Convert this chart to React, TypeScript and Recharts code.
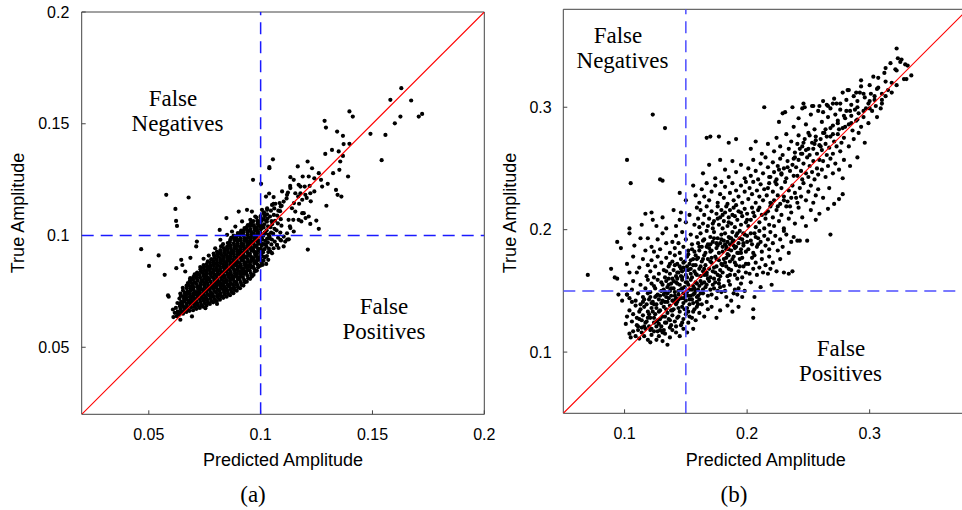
import React from 'react';
import { ScatterChart, Scatter, XAxis, YAxis } from 'recharts';

// ---------- Panel (a): [predicted, true] pairs, in thousandths ----------
const aCore = [
  61,63.5, 61.6,65.4, 60.8,66.9,
  62.4,63.9, 62.9,65.9, 62.1,67.6, 62.8,69.8,
  63.6,64.6, 64.4,66.1, 63.9,68.4, 64.5,70.4, 63.7,71.8, 64.1,74.0,
  65.3,65.0, 65.9,67.2, 65.1,69.3, 65.8,70.6, 65.4,72.9, 66.0,74.3, 65.2,76.6,
  66.8,65.8, 67.4,67.1, 66.9,69.5, 67.5,71.0, 66.6,73.1, 67.2,75.0, 67.0,76.4, 67.5,78.7,
  68.2,66.3, 68.9,67.9, 68.3,70.0, 68.8,71.5, 68.4,73.8, 68.6,75.2, 68.1,77.5, 68.9,78.9, 68.5,80.9,
  69.8,66.6, 70.4,68.1, 69.6,70.3, 70.3,71.8, 69.9,74.1, 70.1,75.6, 69.7,77.9, 70.4,79.2, 70.0,81.5, 70.5,82.6,
  71.3,67.2, 71.9,68.7, 71.1,70.9, 71.7,72.4, 71.4,74.7, 72.0,76.1, 71.2,78.4, 71.8,79.8, 71.3,82.1, 71.6,83.4,
  72.8,67.6, 73.4,69.0, 72.9,71.3, 73.5,72.7, 72.6,75.0, 73.2,76.4, 73.0,78.7, 73.5,80.1, 72.7,82.4, 73.3,83.8, 73.0,85.9,
  74.2,68.2, 74.9,69.7, 74.3,71.9, 74.7,73.4, 74.4,75.7, 75.0,77.1, 74.2,79.4, 74.8,80.8, 74.3,83.1, 74.7,84.5, 74.5,86.8,
  75.8,68.7, 76.4,70.1, 75.6,72.4, 76.2,73.8, 75.9,76.1, 76.5,77.5, 75.7,79.8, 76.3,81.2, 75.8,83.5, 76.1,84.9, 75.9,87.2, 76.4,88.4,
  77.3,69.4, 77.9,70.8, 77.1,73.1, 77.7,74.5, 77.4,76.8, 78.0,78.2, 77.2,80.5, 77.8,81.9, 77.3,84.2, 77.6,85.6, 77.4,87.9, 77.9,89.4,
  78.8,70.1, 79.4,71.5, 78.6,73.8, 79.2,75.2, 78.9,77.5, 79.5,78.9, 78.7,81.2, 79.3,82.6, 78.8,84.9, 79.1,86.3, 78.9,88.6, 79.4,90.0, 79.0,91.9,
  80.3,70.6, 80.9,72.1, 80.1,74.4, 80.7,75.8, 80.4,78.1, 81.0,79.5, 80.2,81.8, 80.8,83.2, 80.3,85.5, 80.6,86.9, 80.4,89.2, 80.9,90.6, 80.5,92.8,
  81.8,71.3, 82.4,72.8, 81.6,75.1, 82.2,76.5, 81.9,78.8, 82.5,80.2, 81.7,82.5, 82.3,83.9, 81.8,86.2, 82.1,87.6, 81.9,89.9, 82.4,91.3, 82.0,93.5, 82.3,95.1,
  83.3,72.1, 83.9,73.6, 83.1,75.9, 83.7,77.3, 83.4,79.6, 84.0,81.0, 83.2,83.3, 83.8,84.7, 83.3,87.0, 83.6,88.4, 83.4,90.7, 83.9,92.1, 83.5,94.4, 83.2,96.1,
  84.8,72.6, 85.4,74.1, 84.6,76.4, 85.2,77.8, 84.9,80.1, 85.5,81.5, 84.7,83.8, 85.3,85.2, 84.8,87.5, 85.1,88.9, 84.9,91.2, 85.4,92.6, 85.0,94.9, 85.3,96.6,
  86.3,73.3, 86.9,74.8, 86.1,77.1, 86.7,78.5, 86.4,80.8, 87.0,82.2, 86.2,84.5, 86.8,85.9, 86.3,88.2, 86.6,89.6, 86.4,91.9, 86.9,93.3, 86.5,95.6, 86.2,97.0, 86.8,98.9,
  87.8,74.2, 88.4,75.7, 87.6,78.0, 88.2,79.4, 87.9,81.7, 88.5,83.1, 87.7,85.4, 88.3,86.8, 87.8,89.1, 88.1,90.5, 87.9,92.8, 88.4,94.2, 88.0,96.5, 88.3,97.9, 87.9,99.9,
  89.3,75.3, 89.9,76.8, 89.1,79.1, 89.7,80.5, 89.4,82.8, 90.0,84.2, 89.2,86.5, 89.8,87.9, 89.3,90.2, 89.6,91.6, 89.4,93.9, 89.9,95.3, 89.5,97.6, 89.2,99.0, 89.8,101.1,
  90.8,76.4, 91.4,77.9, 90.6,80.2, 91.2,81.6, 90.9,83.9, 91.5,85.3, 90.7,87.6, 91.3,89.0, 90.8,91.3, 91.1,92.7, 90.9,95.0, 91.4,96.4, 91.0,98.7, 90.7,100.1, 91.3,102.2,
  92.3,77.6, 92.9,79.1, 92.1,81.4, 92.7,82.8, 92.4,85.1, 93.0,86.5, 92.2,88.8, 92.8,90.2, 92.3,92.5, 92.6,93.9, 92.4,96.2, 92.9,97.6, 92.5,99.9, 92.2,101.3, 92.8,103.3,
  93.8,79.3, 94.4,80.8, 93.6,83.1, 94.2,84.5, 93.9,86.8, 94.5,88.2, 93.7,90.5, 94.3,91.9, 93.8,94.2, 94.1,95.6, 93.9,97.9, 94.4,99.3, 94.0,101.6, 93.7,103.0, 94.3,104.7,
  95.3,80.6, 95.9,82.1, 95.1,84.4, 95.7,85.8, 95.4,88.1, 96.0,89.5, 95.2,91.8, 95.8,93.2, 95.3,95.5, 95.6,96.9, 95.4,99.2, 95.9,100.6, 95.5,102.9, 95.2,104.3, 95.8,105.9,
  96.8,82.4, 97.4,83.9, 96.6,86.2, 97.2,87.6, 96.9,89.9, 97.5,91.3, 96.7,93.6, 97.3,95.0, 96.8,97.3, 97.1,98.7, 96.9,101.0, 97.4,102.4, 97.0,104.7, 96.7,106.4,
  98.3,84.3, 98.9,85.8, 98.1,88.1, 98.7,89.5, 98.4,91.8, 99.0,93.2, 98.2,95.5, 98.8,96.9, 98.3,99.2, 98.6,100.6, 98.4,102.9, 98.9,104.3, 98.5,106.6, 98.2,108.0,
  99.8,86.5, 100.4,88.0, 99.6,90.3, 100.2,91.7, 99.9,94.0, 100.5,95.4, 99.7,97.7, 100.3,99.1, 99.8,101.4, 100.1,102.8, 99.9,105.1, 100.4,106.5, 100.0,108.7,
  101.3,88.7, 101.9,90.2, 101.1,92.5, 101.7,93.9, 101.4,96.2, 102.0,97.6, 101.2,99.9, 101.8,101.3, 101.3,103.6, 101.6,105.0, 101.4,107.3, 101.9,108.7, 101.5,110.4,
  102.8,90.8, 103.4,92.6, 102.6,95.0, 103.2,96.9, 102.9,98.6, 103.5,100.4, 102.7,102.3, 103.3,104.1, 102.8,106.2, 103.1,107.6, 102.9,109.5,
  104.3,92.9, 104.8,96.0, 104.1,98.7, 104.7,101.3, 104.4,103.7, 104.9,106.4, 104.2,108.5, 104.6,111.1,
  105.8,94.3, 106.3,97.3, 105.6,100.8, 106.2,103.0, 106.4,106.6, 105.9,109.2, 106.1,112.1,
  107.3,95.7, 107.8,99.0, 107.1,102.3, 107.7,105.4, 107.4,108.9, 107.9,111.1,
  109.1,97.8, 108.8,101.3, 109.3,104.4, 109.0,107.3, 108.7,110.9, 109.4,113.3,
];

// denser middle of the blob
const aCoreFill = [
  63.1,65.2, 64.9,68.9, 66.2,71.7, 66.4,67.9, 67.9,74.2, 69.3,72.6, 69.1,76.9, 70.8,74.6,
  70.6,69.4, 72.3,77.3, 72.1,73.8, 73.9,79.6, 73.7,75.9, 75.3,82.0, 75.1,78.4, 75.4,71.3,
  76.9,86.1, 76.7,80.2, 77.0,75.9, 78.3,83.3, 78.1,77.0, 78.4,72.7, 79.9,87.4, 79.7,80.1,
  80.0,76.9, 81.3,84.4, 81.1,79.0, 81.4,73.4, 81.2,91.9, 82.9,88.8, 82.7,81.6, 82.9,77.6,
  84.3,85.8, 84.1,79.1, 84.4,93.6, 84.2,75.2, 85.9,90.1, 85.7,82.7, 86.0,78.0, 85.8,95.7,
  87.3,87.3, 87.1,80.5, 87.4,92.0, 87.2,76.2, 88.9,95.2, 88.7,84.4, 89.0,78.1, 88.8,88.0,
  90.4,92.7, 90.2,81.3, 90.5,98.0, 90.3,86.1, 91.9,90.4, 91.7,83.0, 92.0,95.4, 91.8,100.9,
  93.3,88.0, 93.1,84.0, 93.4,98.6, 93.2,93.2, 94.9,96.4, 94.7,86.0, 95.0,91.1, 94.8,102.2,
  96.3,94.4, 96.1,88.7, 96.4,99.9, 96.2,104.6, 97.9,92.6, 97.7,97.9, 98.0,88.6, 97.8,103.5,
  99.3,96.3, 99.1,89.1, 99.4,101.0, 99.2,106.3, 100.9,93.4, 100.7,98.3, 101.0,104.1, 102.3,95.9,
  102.1,101.0, 102.4,106.7, 103.9,99.6, 103.7,94.1, 105.2,105.1, 105.0,98.2,
];

// more points where the blob is solid black
const aCoreDense = [
  64.2,67.2, 63.8,69.4, 64.3,72.9,
  65.6,66.1, 65.4,68.2, 65.7,71.7, 65.3,75.4,
  67.1,68.3, 66.8,72.1, 67.3,74.0, 66.9,77.6,
  68.6,69.0, 68.3,72.6, 68.7,76.3, 68.4,79.9,
  70.2,69.2, 69.9,73.0, 70.1,76.8, 69.8,80.4,
  71.6,69.8, 71.3,73.5, 71.7,77.2, 71.4,80.9,
  73.1,70.2, 72.8,73.9, 73.2,77.6, 72.9,81.3, 73.1,84.9,
  74.6,70.8, 74.3,74.5, 74.7,78.2, 74.4,81.9, 74.6,85.6,
  76.1,71.3, 75.8,75.0, 76.2,78.7, 75.9,82.4, 76.0,86.1,
  77.6,71.9, 77.3,75.6, 77.7,79.3, 77.4,83.0, 77.5,86.7,
  79.1,72.7, 78.8,76.4, 79.2,80.1, 78.9,83.8, 79.0,87.5, 79.2,91.0,
  80.6,73.2, 80.3,77.0, 80.7,80.6, 80.4,84.3, 80.5,88.0, 80.7,91.7,
  82.1,74.0, 81.8,77.7, 82.2,81.4, 81.9,85.1, 82.0,88.8, 82.2,92.4,
  83.6,74.7, 83.3,78.4, 83.7,82.1, 83.4,85.8, 83.5,89.5, 83.7,93.2,
  85.1,75.3, 84.8,79.0, 85.2,82.7, 84.9,86.4, 85.0,90.1, 85.2,93.8,
  86.6,75.9, 86.3,79.6, 86.7,83.3, 86.4,87.0, 86.5,90.7, 86.7,94.4, 86.4,98.0,
  88.1,76.9, 87.8,80.6, 88.2,84.3, 87.9,88.0, 88.0,91.7, 88.2,95.4, 87.9,98.9,
  89.6,77.9, 89.3,81.6, 89.7,85.3, 89.4,89.0, 89.5,92.7, 89.7,96.4, 89.4,100.0,
  91.1,79.1, 90.8,82.8, 91.2,86.5, 90.9,90.2, 91.0,93.9, 91.2,97.6, 90.9,101.2,
  92.6,80.2, 92.3,83.9, 92.7,87.6, 92.4,91.3, 92.5,95.0, 92.7,98.7, 92.4,102.3,
  94.1,82.0, 93.8,85.7, 94.2,89.4, 93.9,93.1, 94.0,96.8, 94.2,100.5, 93.9,103.9,
  95.6,83.2, 95.3,86.9, 95.7,90.6, 95.4,94.3, 95.5,98.0, 95.7,101.7, 95.4,105.1,
  97.1,85.1, 96.8,88.8, 97.2,92.5, 96.9,96.2, 97.0,99.9, 97.2,103.6,
  98.6,87.0, 98.3,90.6, 98.7,94.3, 98.4,98.0, 98.5,101.7, 98.7,105.4,
  100.1,89.2, 99.8,92.9, 100.2,96.6, 99.9,100.3, 100.0,104.0, 100.2,107.6,
];

const aEdges = [
  57.8,118.2, 67.8,117.0, 61.9,111.9, 62.2,106.5, 62.6,104.3,
  46.6,93.9, 54.4,91.1, 50.1,86.4, 57.1,82.4, 58.6,73.2, 58.9,72.6,
  64.5,89.1, 68.6,90.0, 62.3,85.4, 66.3,83.9, 65.0,86.8, 71.5,97.3, 71.2,95.1,
  74.5,89.6, 76.8,91.0, 79.7,94.3, 82.0,98.1, 85.0,100.3, 87.2,101.8, 88.7,104.0,
  91.7,106.3, 95.4,107.0, 97.6,108.5, 100.6,111.5, 102.9,112.2, 105.1,113.7,
  81.7,102.5, 84.7,107.8, 90.2,110.7, 93.9,111.5, 96.1,110.7,
  96.6,124.9, 100.2,123.1, 103.9,130.6,
  64.1,62.3, 69.3,63.8, 75.3,67.5, 80.5,69.4, 96.1,81.7, 100.9,86.9, 101.3,90.6,
  102.5,87.3, 103.4,89.1, 105.1,92.1, 108.0,94.4, 110.3,95.1, 112.6,98.3,
  101.3,110.0, 102.9,111.5, 105.8,114.2,
];

const aUpper = [
  102.4,117.4, 103.8,118.8, 105.8,117.2, 106.6,114.2, 109.0,113.0, 108.5,114.5, 110.3,115.2,
  109.6,119.7, 111.6,116.6, 111.8,118.2, 113.2,122.2, 113.3,121.2, 113.3,126.1, 114.8,124.9,
  112.2,119.2, 114.9,114.5, 116.8,117.5, 117.2,114.2, 117.0,122.7, 117.8,121.9, 119.7,121.9,
  118.8,126.4, 117.8,118.9, 120.0,118.2, 121.9,122.2, 122.2,118.9, 124.0,119.7, 122.4,115.3,
  120.6,116.8, 118.6,116.0, 115.5,118.9, 114.0,112.2, 115.5,110.7, 119.3,110.0, 121.5,108.5,
  124.9,106.7, 122.2,105.2, 126.0,103.0, 120.1,107.8, 118.6,110.0, 118.2,106.3, 117.0,107.0,
  112.5,107.0, 114.6,107.0, 113.3,103.3, 114.8,101.8, 113.1,104.1, 111.8,101.0, 110.3,99.5,
  111.0,97.3, 111.9,98.2, 108.8,98.1, 107.3,95.8, 121.1,93.7, 121.5,126.4, 124.0,125.6,
  126.0,127.9, 127.0,124.9, 127.5,121.9, 130.0,123.1, 129.4,113.3, 133.7,120.4, 134.4,118.2,
  136.1,117.4, 139.1,126.4, 132.4,127.9, 135.2,129.4, 116.6,130.9, 121.0,133.1, 123.0,130.1,
  105.5,134.1, 103.9,130.1, 128.9,136.5, 131.9,138.3, 134.9,137.6, 136.8,135.6, 135.6,133.1,
  137.1,140.9, 139.7,141.0, 134.2,146.5, 136.8,144.6, 128.6,151.3, 129.2,148.3, 139.7,155.5,
  141.2,153.2, 149.1,145.5, 155.8,145.0, 154.1,133.7, 160.0,150.2, 162.5,153.2, 170.7,153.2,
  172.2,154.4, 158.0,160.7, 167.3,160.4, 162.9,165.9,
];

// ---------- Panel (b): [predicted, true] pairs, in thousandths ----------
const bLow = [
  104,115, 105,112, 107,117, 109,113, 111,118, 112,111, 114,116, 116,113, 117,119, 119,110,
  121,108, 122,114, 124,117, 126,110, 128,113, 129,118, 131,109, 133,115, 135,106, 137,112,
  139,118, 142,116, 145,113, 148,119, 151,116, 156,119,
  101,123, 102,129, 104,134, 106,125, 107,131, 109,138, 110,122, 112,127, 113,135, 115,130,
  117,124, 118,139, 119,133, 120,121, 121,128, 122,136, 124,124, 125,131, 126,139, 127,126,
  129,134, 130,121, 131,129, 132,137, 134,124, 135,132, 136,127, 137,138, 138,122, 139,130,
  140,135, 141,125, 142,139, 143,128, 145,133, 146,122, 147,137, 148,127, 150,131, 151,136,
  152,124, 153,139, 155,128, 156,133, 158,126, 159,137, 161,132, 163,139, 165,129, 168,135,
  171,137, 175,128, 178,134, 184,138, 188,133, 193,137, 205,135, 205,128,
  123,133, 128,123, 133,129, 137,126, 126,136,
  111,121, 114,126, 116,121, 119,128, 121,118, 124,128, 126,121, 129,127, 132,118, 134,135,
  137,120, 139,134, 142,121, 144,129, 147,124, 149,135, 153,129, 157,135, 160,139,
  110,128, 112,133, 114,120, 116,137, 118,125, 120,131, 122,119, 124,139, 126,125, 128,133,
  130,140, 127,117, 115,141, 131,116, 133,124, 135,141,
];

const bMid = [
  95,147, 98,142, 101,155, 102,147, 104,144, 106,151, 107,158, 109,142, 111,148, 113,155,
  115,145, 117,152, 119,159, 120,143, 121,149, 122,156, 123,141, 125,152, 126,146, 127,159,
  128,143, 130,150, 131,155, 132,147, 133,141, 134,158, 135,153, 136,144, 137,150, 138,156,
  139,142, 140,152, 141,146, 142,157, 143,141, 144,150, 145,155, 146,144, 147,159, 148,148,
  149,153, 150,142, 151,157, 152,146, 153,151, 154,159, 155,143, 156,154, 157,148, 158,157,
  159,145, 160,151, 161,143, 163,156, 164,148, 166,153, 167,141, 169,158, 171,147, 173,152,
  175,144, 177,156, 179,149, 181,154, 183,145, 185,158, 187,142, 190,151, 192,147, 195,156,
  198,150, 203,157, 206,145, 211,153, 217,164, 220,155, 230,165,
  141,149, 143,156, 146,151, 148,144, 151,149, 154,146, 157,152, 159,141, 144,143, 152,155,
  121,145, 124,154, 127,147, 130,157, 133,149, 136,155, 138,146,
  162,148, 165,157, 168,146, 172,155, 176,150,
  113,139, 116,143, 119,148, 122,140, 125,145, 129,146, 131,142, 135,148, 138,152, 141,141,
  144,147, 147,152, 150,146, 153,143, 156,147, 158,150, 161,154, 164,151, 167,155, 170,151,
  174,157, 178,153, 182,150, 186,155, 189,148, 193,152, 196,145,
  132,151, 134,145, 136,160, 138,134, 140,158, 142,144, 144,136, 146,162, 148,140, 150,157,
  152,133, 154,168, 156,140, 158,164, 160,146, 134,166, 137,172, 140,142, 143,160, 147,166,
  151,161, 155,151, 159,156,
  70,163, 89,168, 92,161, 94,160, 102,147, 106,141,
  102,172, 104,165, 107,178, 110,165, 112,169, 115,176, 118,162, 119,171,
  121,166, 122,175, 124,161, 125,170, 127,178, 128,164, 130,173, 132,167, 133,161, 134,177,
  136,170, 137,164, 139,174, 139,160, 140,167, 141,179, 142,162, 143,172, 144,165, 146,176,
  147,161, 148,169, 149,174, 150,163, 151,178, 152,167, 153,172, 155,161, 156,176, 157,166,
  158,171, 159,163, 145,170, 154,175, 160,177, 161,168, 162,162, 163,174, 164,166, 165,179,
  166,171, 167,163, 168,176, 169,168, 170,161, 171,173, 172,166, 174,178, 175,170, 176,163,
  177,175, 178,167, 179,172, 173,160, 180,165, 181,176, 183,170, 184,162, 186,174, 187,167,
  189,178, 190,163, 191,171, 193,166, 194,176, 196,161, 197,170, 199,165, 185,179, 192,160,
  201,172, 202,164, 204,177, 205,168, 207,173, 208,163, 210,169, 212,176, 213,165, 215,171,
  218,178, 219,168, 206,179, 221,173, 224,166, 227,176, 234,164, 237,166,
  141,171, 143,165, 146,168, 148,173, 151,170, 154,164, 156,171, 159,176, 150,167,
  162,170, 164,176, 167,165, 170,174, 173,169, 175,176, 178,162, 165,163,
  182,173, 185,168, 188,176, 194,170,
  162,158, 165,168, 168,160, 171,177, 174,165, 177,159, 180,171, 183,177, 186,163, 190,173,
  196,177, 199,172,
];

const bHigh = [
  94,190, 97,185, 104,197, 108,187, 113,193, 117,183, 119,193, 122,186, 124,182, 127,192,
  129,184, 131,197, 134,189, 137,181, 139,190, 134,201, 141,185, 142,195, 144,189, 145,181,
  147,198, 148,186, 150,192, 152,183, 154,196, 155,188, 157,182, 159,194, 160,189, 161,183,
  162,197, 163,186, 165,192, 166,181, 167,199, 168,188, 170,194, 171,183, 172,190, 173,198,
  175,185, 176,193, 177,181, 178,189, 179,196, 169,185, 180,182, 181,191, 182,197, 183,186,
  184,180, 185,194, 186,188, 187,183, 188,198, 189,191, 190,185, 191,195, 192,181, 193,189,
  194,199, 195,184, 196,192, 197,187, 198,196, 199,182, 187,193, 184,190, 200,190, 201,184,
  203,197, 204,188, 205,181, 207,194, 208,186, 210,199, 211,190, 212,182, 214,195, 215,187,
  217,192, 218,184, 219,198, 209,193, 221,189, 223,195, 225,183, 227,192, 229,186, 232,196,
  234,181, 236,190, 238,194, 230,199, 241,191, 243,191, 249,191, 268,196,
  183,184, 189,187, 195,181, 197,197, 170,182, 175,189, 180,186, 186,193, 192,197, 193,181,
  152,180, 155,184, 158,179, 161,186, 164,191, 167,186, 170,188, 173,193, 176,187, 179,192,
  182,188, 185,184, 188,190, 191,186, 194,193, 197,189, 200,195, 203,191, 206,197, 209,188,
  104,201, 114,204, 117,213, 122,214, 123,208, 126,203, 131,210, 140,216, 146,214, 145,208,
  142,203, 150,206, 153,212, 157,204, 159,218, 160,209, 161,202, 162,216, 164,205, 165,212,
  167,219, 168,203, 169,209, 171,215, 172,201, 173,207, 175,213, 176,219, 177,204, 178,210,
  179,216, 180,201, 181,207, 182,214, 183,219, 184,203, 185,210, 186,216, 187,205, 188,212,
  189,218, 190,202, 192,208, 193,215, 195,204, 196,211, 198,217, 199,206, 191,220, 200,213,
  201,203, 203,208, 204,218, 206,211, 207,202, 209,216, 210,206, 212,212, 214,201, 215,209,
  217,215, 218,204, 219,219, 221,210, 222,203, 224,216, 226,207, 228,212, 230,201, 232,219,
  234,209, 236,214, 239,205, 242,218, 245,210, 248,203, 252,216, 256,208, 259,213, 266,217,
  172,205, 176,209, 180,212, 185,206, 190,211, 195,214, 200,208, 205,214, 210,218, 215,213,
  220,221, 225,219, 230,224, 235,219, 240,226,
  105,238, 145,230, 150,224, 156,236, 158,228, 161,222, 163,233, 165,227, 167,238, 169,224,
  171,231, 174,236, 176,222, 178,229, 179,239, 181,226, 182,235, 184,221, 186,230, 188,238,
  189,224, 191,232, 193,227, 195,236, 196,222, 198,231, 199,239, 201,225, 202,234, 204,229,
  205,239, 207,222, 208,232, 210,227, 211,237, 213,224, 214,233, 216,228, 218,238, 219,222,
  217,234, 221,231, 222,224, 224,237, 225,228, 227,221, 228,234, 230,227, 231,239, 233,223,
  234,232, 236,226, 237,236, 239,230, 241,222, 243,234, 244,227, 246,238, 248,224, 250,231,
  252,236, 254,222, 256,228, 258,233, 262,226, 267,234, 271,221, 275,225, 278,229,
];

const bTop = [
  102,257, 129,241, 131,240, 164,246, 169,253, 174,242, 178,257, 182,249, 185,243, 188,256,
  191,247, 195,253, 198,242, 201,250, 203,244, 205,257, 207,248, 209,241, 211,254, 213,246,
  215,259, 217,251, 219,243, 221,255, 222,247, 224,241, 225,252, 227,258, 228,245, 230,250,
  232,242, 233,256, 235,248, 237,253, 238,244, 239,259, 226,249, 240,251, 241,244, 242,257,
  244,248, 245,241, 246,254, 248,246, 249,259, 250,243, 251,252, 253,247, 254,256, 255,241,
  257,250, 258,245, 259,257, 261,249, 262,256, 264,243, 266,252, 268,258, 270,246, 272,254,
  275,249, 278,242, 279,257, 284,252, 290,259,
  218,243, 223,239, 228,246, 233,251, 238,258, 243,266,
  167,275, 170,276, 177,276, 185,271, 191,274, 203,266, 207,272, 212,262, 217,270, 222,264,
  224,275, 227,268, 229,261, 232,278, 234,266, 236,272, 239,263, 241,270, 242,277, 244,262,
  245,268, 247,274, 248,265, 250,279, 251,261, 253,271, 254,266, 256,276, 257,262, 259,269,
  246,271, 260,274, 261,265, 263,279, 264,270, 265,261, 267,267, 268,276, 270,262, 271,272,
  273,268, 274,278, 276,264, 277,271, 279,275, 283,268, 287,274, 291,279, 296,271,
  245,262, 250,266, 255,270, 260,268, 265,276, 270,278, 256,273, 251,277, 262,279,
  123,294, 133,283, 214,300, 226,288, 229,295, 231,296, 237,300, 238,284, 242,291, 245,299,
  247,300, 248,286, 252,294, 254,301, 255,282, 258,297, 261,288, 262,296, 264,282, 266,292,
  268,299, 270,285, 272,294, 274,289, 276,298, 278,283, 280,291, 281,297, 283,286, 285,293,
  286,281, 288,298, 289,289, 291,295, 293,284, 295,292, 297,299, 299,287, 302,297, 306,292,
  275,282, 280,284, 285,287, 290,290, 295,297, 268,283, 274,287, 279,293, 284,297, 290,300,
  309,299, 246,303, 253,301, 259,301, 265,302, 270,303, 273,303, 262,305, 266,301, 271,307,
  276,303, 278,312, 281,306, 283,314, 285,302, 287,309, 290,305, 293,317, 296,308, 299,303,
  289,312, 292,312, 295,311, 300,305, 304,309, 310,306, 301,311, 304,306, 307,316, 310,303,
  300,299, 305,301, 310,311, 315,314, 318,320,
  313,309, 318,312, 300,318, 306,315, 282,314, 322,318, 293,322, 303,325, 307,324, 312,328,
  317,336, 313,321, 322,330, 325,337, 328,323, 331,334, 334,326, 330,323, 322,348, 323,340,
  326,339, 329,335, 313,332, 321,331,
];

const aThreshold = 0.1;
const bThreshold = 0.15;
const aDomain: [number, number] = [0.02, 0.2];
const bDomain: [number, number] = [0.05, 0.38];
const aTicks = [0.05, 0.1, 0.15, 0.2];
const bTicks = [0.1, 0.2, 0.3];

const xLabel = 'Predicted Amplitude';
const yLabel = 'True Amplitude';
const fnLines = ['False', 'Negatives'];
const fpLines = ['False', 'Positives'];

const toPoints = (...arrs: number[][]) => {
  const out: { x: number; y: number }[] = [];
  for (const a of arrs) for (let i = 0; i + 1 < a.length; i += 2) out.push({ x: a[i] / 1000, y: a[i + 1] / 1000 });
  return out;
};

const dataA = toPoints(aCore, aCoreFill, aCoreDense, aEdges, aUpper);
const dataB = toPoints(bLow, bMid, bHigh, bTop);

const SANS = "'Liberation Sans', Arial, Helvetica, sans-serif";
const SERIF = "'Liberation Serif', 'Times New Roman', serif";
const AXIS = '#444';

const Dot = (p: any) => <circle cx={p.cx} cy={p.cy} r={2.1} fill="#000" />;
const NoDot = () => <g />;

type PanelProps = {
  data: { x: number; y: number }[];
  domain: [number, number];
  ticks: number[];
  thr: number;
  dash: string;
  left: number;
  margin: { top: number; right: number; bottom: number; left: number };
  xTickMargin: number;
  yTickMargin: number;
};

function Panel({ data, domain, ticks, thr, dash, left, margin, xTickMargin, yTickMargin }: PanelProps) {
  const tickStyle = { fill: '#000', fontSize: 16, fontFamily: SANS };
  const vLine = [{ x: thr, y: domain[0] }, { x: thr, y: domain[1] }];
  const hLine = [{ x: domain[0], y: thr }, { x: domain[1], y: thr }];
  const diag = [{ x: domain[0], y: domain[0] }, { x: domain[1], y: domain[1] }];
  return (
    <div style={{ position: 'absolute', left, top: 0 }}>
      <ScatterChart width={500} height={480} margin={margin}>
        <XAxis xAxisId="b" type="number" dataKey="x" domain={domain} ticks={ticks} allowDataOverflow
          orientation="bottom" height={40} stroke={AXIS} tickSize={-4} tickMargin={xTickMargin}
          tick={tickStyle} interval={0} />
        <XAxis xAxisId="t" type="number" dataKey="x" domain={domain} ticks={ticks} allowDataOverflow
          orientation="top" height={1} stroke={AXIS} tickSize={-4} tick={false} interval={0} />
        <YAxis yAxisId="l" type="number" dataKey="y" domain={domain} ticks={ticks} allowDataOverflow
          orientation="left" width={60} stroke={AXIS} tickSize={-4} tickMargin={yTickMargin}
          tick={tickStyle} interval={0} />
        <YAxis yAxisId="r" type="number" dataKey="y" domain={domain} ticks={ticks} allowDataOverflow
          orientation="right" width={1} stroke={AXIS} tickSize={-4} tick={false} interval={0} />
        <Scatter xAxisId="b" yAxisId="l" data={data} shape={Dot} isAnimationActive={false} />
        <Scatter xAxisId="b" yAxisId="l" data={vLine} shape={NoDot} isAnimationActive={false}
          line={{ stroke: dash, strokeWidth: 1.5, strokeDasharray: '12 7' }} />
        <Scatter xAxisId="b" yAxisId="l" data={hLine} shape={NoDot} isAnimationActive={false}
          line={{ stroke: dash, strokeWidth: 1.5, strokeDasharray: '12 7' }} />
        <Scatter xAxisId="b" yAxisId="l" data={diag} shape={NoDot} isAnimationActive={false}
          line={{ stroke: '#ff0000', strokeWidth: 1.1 }} />
      </ScatterChart>
    </div>
  );
}

export default function App() {
  return (
    <div style={{ position: 'relative', width: 962, height: 510, overflow: 'hidden', background: '#fff' }}>
      <style>{'body{margin:0;overflow:hidden;}'}</style>
      <Panel data={dataA} domain={aDomain} ticks={aTicks} thr={aThreshold} dash="#1a1aff" left={0}
        margin={{ top: 11, right: 14.7, left: 21.7, bottom: 25.7 }} xTickMargin={18.3} yTickMargin={16.4} />
      <Panel data={dataB} domain={bDomain} ticks={bTicks} thr={bThreshold} dash="#4d4dff" left={480}
        margin={{ top: 8.3, right: 11.3, left: 23.3, bottom: 26.7 }} xTickMargin={17.9} yTickMargin={15.6} />
      <svg width={962} height={510} style={{ position: 'absolute', left: 0, top: 0, pointerEvents: 'none' }}>
        <g fontFamily={SANS} fontSize={18} fill="#000">
          <text x={283} y={466} textAnchor="middle">{xLabel}</text>
          <text x={765.7} y={466} textAnchor="middle">{xLabel}</text>
          <text transform="translate(24,213) rotate(-90)" textAnchor="middle">{yLabel}</text>
          <text transform="translate(516,213) rotate(-90)" textAnchor="middle">{yLabel}</text>
        </g>
        <g fontFamily={SERIF} fontSize={23} fill="#000" textAnchor="middle">
          <text x={173} y={106}>{fnLines[0]}</text>
          <text x={177.5} y={131}>{fnLines[1]}</text>
          <text x={384} y={314}>{fpLines[0]}</text>
          <text x={384} y={339}>{fpLines[1]}</text>
          <text x={618} y={43}>{fnLines[0]}</text>
          <text x={622.5} y={68}>{fnLines[1]}</text>
          <text x={841} y={356}>{fpLines[0]}</text>
          <text x={840.5} y={381}>{fpLines[1]}</text>
        </g>
        <g fontFamily={SERIF} fontSize={23} fill="#000" textAnchor="middle">
          <text x={253} y={502}>(a)</text>
          <text x={734} y={502}>(b)</text>
        </g>
      </svg>
    </div>
  );
}
